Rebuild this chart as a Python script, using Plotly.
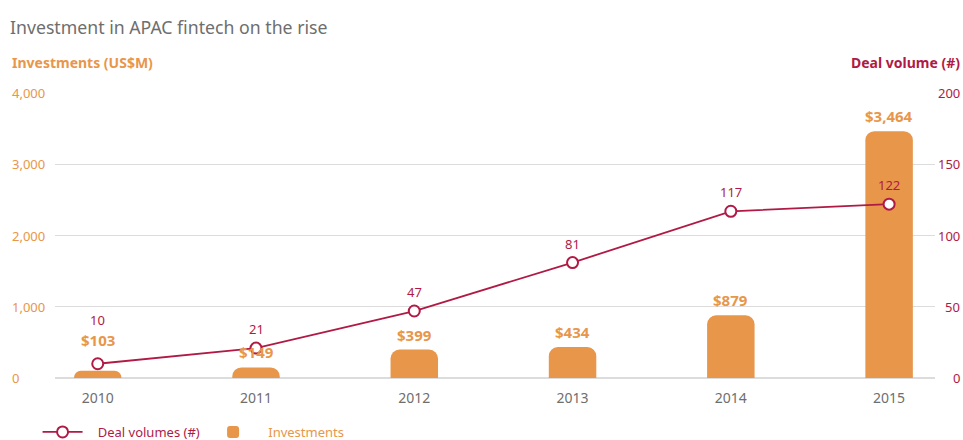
import plotly.graph_objects as go

years = ["2010", "2011", "2012", "2013", "2014", "2015"]
investments = [103, 149, 399, 434, 879, 3464]
deal_volumes = [10, 21, 47, 81, 117, 122]
inv_labels = ["$103", "$149", "$399", "$434", "$879", "$3,464"]
left_ticks = [0, 1000, 2000, 3000, 4000]
left_tick_text = ["0", "1,000", "2,000", "3,000", "4,000"]
right_ticks = [0, 50, 100, 150, 200]
right_tick_text = ["0", "50", "100", "150", "200"]

ORANGE = "#E8964A"
CRIMSON = "#B01A45"
GRAY = "#6E6E6E"
GRID = "#DCDCDC"
FONT = "Noto Sans"

fig = go.Figure()
fig.add_trace(go.Bar(
    x=years, y=investments,
    name="&nbsp;&nbsp;&nbsp;<span style='color:%s'>Investments</span>" % ORANGE,
    marker=dict(color=ORANGE, line=dict(width=0)), width=0.3, yaxis="y",
    hoverinfo="skip",
))
fig.add_trace(go.Scatter(
    x=years, y=deal_volumes,
    name="&nbsp;&nbsp;&nbsp;<span style='color:%s'>Deal volumes (#)</span>&nbsp;" % CRIMSON,
    mode="lines+markers", yaxis="y2",
    line=dict(color=CRIMSON, width=1.8),
    marker=dict(symbol="circle", size=11, color="white", line=dict(color=CRIMSON, width=2)),
    hoverinfo="skip",
))

annotations = []
bar_shift = [31, 15, 15, 15, 15, 15]
line_shift = [44, 19, 19, 19, 19, 19]
for i, yr in enumerate(years):
    annotations.append(dict(x=i, y=investments[i], xref="x", yref="y", text="<b>%s</b>" % inv_labels[i],
                            showarrow=False, yshift=bar_shift[i], yanchor="middle",
                            font=dict(family=FONT, size=15, color=ORANGE)))
    annotations.append(dict(x=i, y=deal_volumes[i], xref="x", yref="y2", text=str(deal_volumes[i]),
                            showarrow=False, yshift=line_shift[i], yanchor="middle",
                            font=dict(family=FONT, size=13, color=CRIMSON)))

for v, t in zip(left_ticks, left_tick_text):
    annotations.append(dict(x=-0.051, y=v, xref="paper", yref="y", text=t, showarrow=False,
                            xanchor="left", yanchor="middle",
                            font=dict(family=FONT, size=13, color=ORANGE)))
for v, t in zip(right_ticks, right_tick_text):
    annotations.append(dict(x=1.031, y=v, xref="paper", yref="y2", text=t, showarrow=False,
                            xanchor="right", yanchor="middle",
                            font=dict(family=FONT, size=13, color=CRIMSON)))

plot_top, plot_bottom = 93, 378
title_row = (plot_bottom - 62) / (plot_bottom - plot_top)
annotations.append(dict(x=-0.051, y=title_row, xref="paper", yref="paper", showarrow=False,
                        text="<b>Investments (US$M)</b>", xanchor="left", yanchor="middle",
                        font=dict(family=FONT, size=14, color=ORANGE)))
annotations.append(dict(x=1.031, y=title_row, xref="paper", yref="paper", showarrow=False,
                        text="<b>Deal volume (#)</b>", xanchor="right", yanchor="middle",
                        font=dict(family=FONT, size=14, color=CRIMSON)))

fig.update_layout(
    width=963, height=440,
    margin=dict(l=55, r=28, t=93, b=62, autoexpand=False),
    paper_bgcolor="white", plot_bgcolor="white",
    font=dict(family=FONT, size=13, color=GRAY),
    title=dict(text="Investment in APAC fintech on the rise", x=10 / 963, xanchor="left",
               y=1 - 28 / 440, yanchor="middle", font=dict(family=FONT, size=17.7, color=GRAY)),
    barcornerradius=9,
    xaxis=dict(type="category", range=[-0.27, 5.29], showgrid=False, zeroline=False,
               showline=False, ticks="", ticklabelstandoff=10,
               tickfont=dict(family=FONT, size=14, color=GRAY)),
    yaxis=dict(range=[0, 4000], tickvals=left_ticks, showticklabels=False, showgrid=True,
               gridcolor=GRID, gridwidth=1, zeroline=True, zerolinecolor=GRID, showline=False),
    yaxis2=dict(range=[0, 200], tickvals=right_ticks, overlaying="y", side="right",
                showticklabels=False, showgrid=False, zeroline=False, showline=False),
    legend=dict(orientation="h", xref="container", yref="container", x=0.039, y=1 - 432 / 440,
                xanchor="left", yanchor="middle", traceorder="reversed",
                font=dict(family=FONT, size=13), itemwidth=40,
                bgcolor="rgba(0,0,0,0)"),
    showlegend=True,
    annotations=annotations,
)

fig.write_html("out.html")
